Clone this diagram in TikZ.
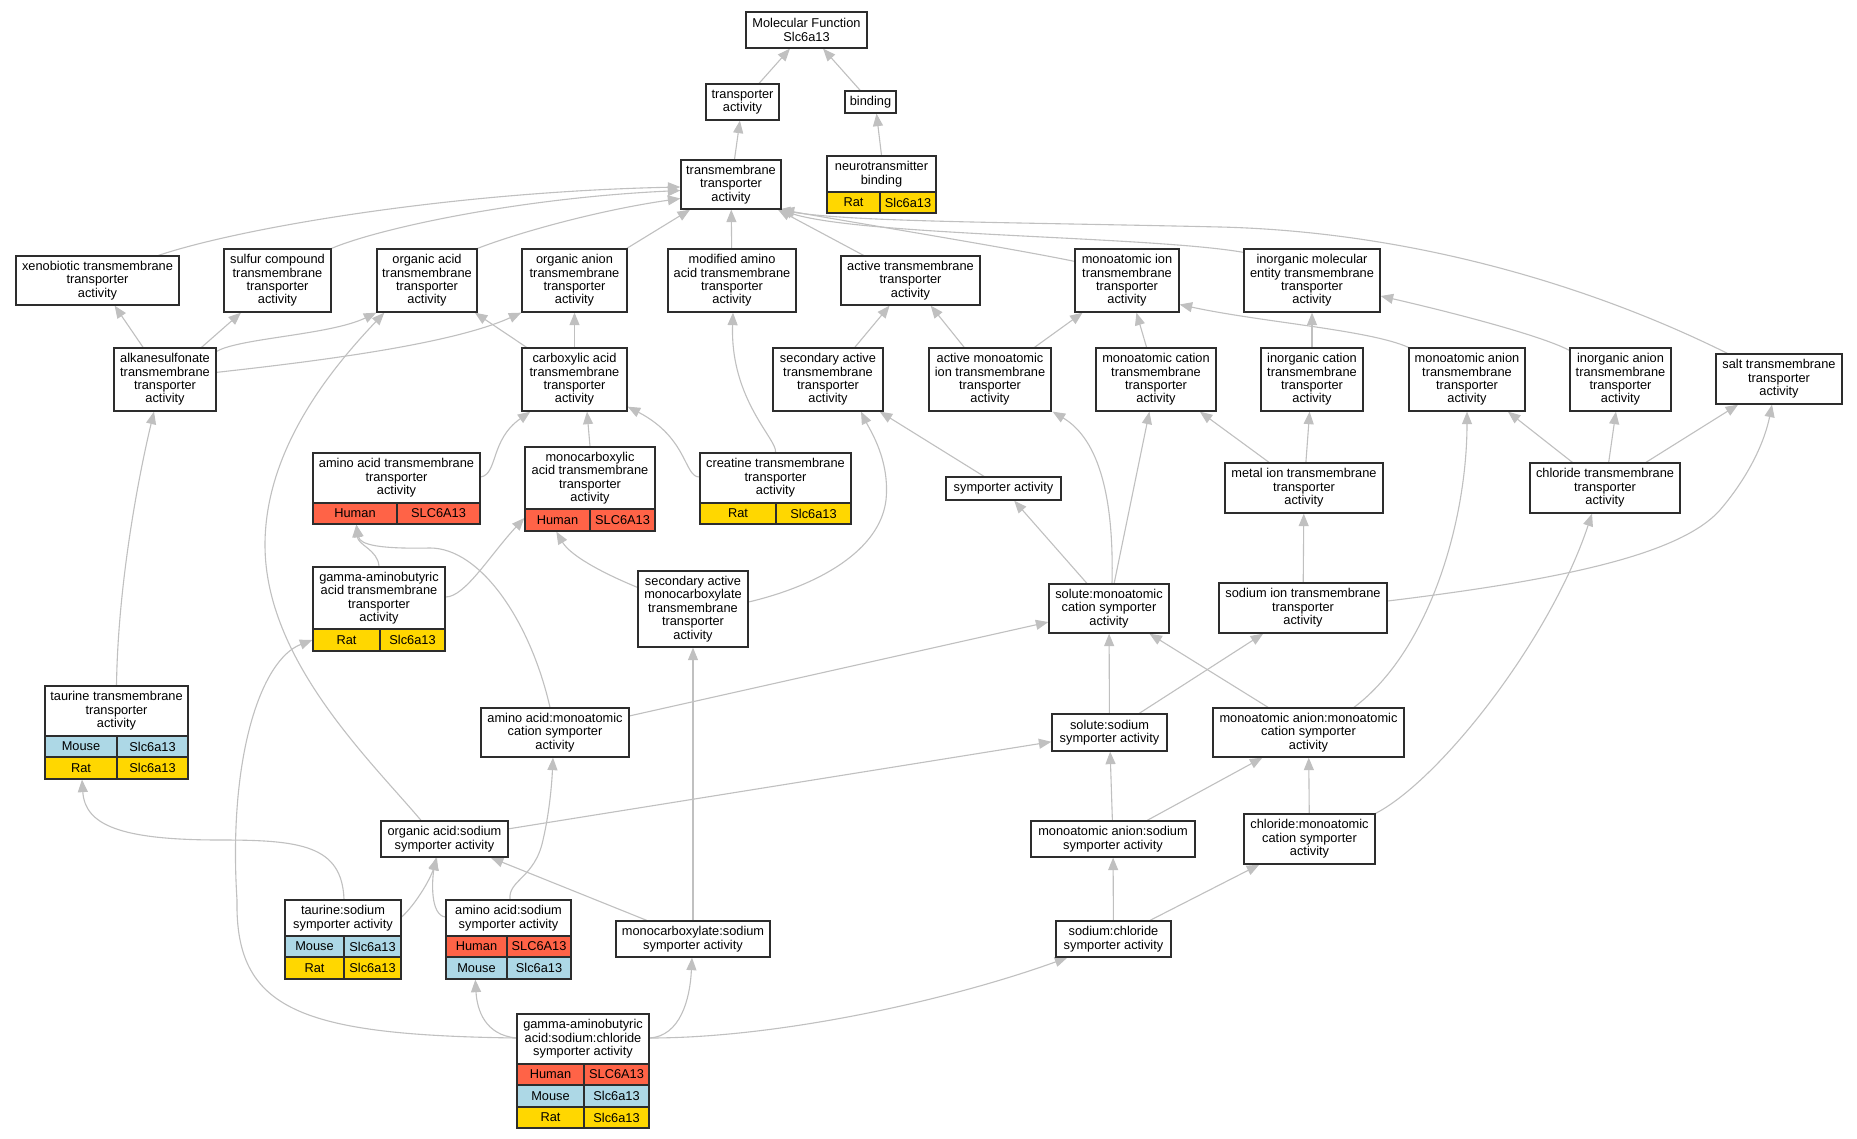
\documentclass[tikz,border=0pt]{standalone}
\usepackage{fontspec}
\setmainfont{Liberation Sans}
\usetikzlibrary{arrows.meta}
\definecolor{edgegray}{RGB}{192,192,192}
\definecolor{human}{RGB}{255,99,71}
\definecolor{mouse}{RGB}{173,216,230}
\definecolor{rat}{RGB}{255,215,0}
\definecolor{boxline}{RGB}{45,45,45}
\newcommand{\gofont}{\fontsize{12.8}{13.4}\selectfont}
\pgfdeclarelayer{bg}
\pgfsetlayers{bg,main}
\tikzset{
  gbx/.style={draw=boxline, line width=1.3pt, fill=white, rectangle, inner sep=0pt, align=center, font=\gofont},
  gtxt/.style={inner sep=0pt, align=center, font=\gofont},
  cellbox/.style={draw=boxline, line width=1.3pt},
  goedge/.style={draw=edgegray, line width=1.1pt, -{Triangle[length=12.5pt,width=10pt]}},
}
% name, left, top, right, bottom, text
\newcommand{\GOn}[6]{\node[gbx, minimum width={(#4-#2)*1pt}, minimum height={(#5-#3)*1pt}] (#1) at ({(#2+#4)/2},{(#3+#5)/2}) {#6};}
% name, left, top, right, header bottom, bottom, text
\newcommand{\GOtab}[7]{\node[gbx, minimum width={(#4-#2)*1pt}, minimum height={(#6-#3)*1pt}] (#1) at ({(#2+#4)/2},{(#3+#6)/2}) {};
  \node[gtxt] at ({(#2+#4)/2},{(#3+#5)/2}) {#7};}
% left, split, right, top, bottom, colour, species, gene
\newcommand{\GOrow}[8]{\draw[cellbox, fill=#6] (#1,#4) rectangle (#2,#5);
  \draw[cellbox, fill=#6] (#2,#4) rectangle (#3,#5);
  \node[gtxt] at ({(#1+#2)/2},{(#4+#5)/2}) {#7};
  \node[gtxt] at ({(#2+#3)/2},{(#4+#5)/2}) {#8};}
\begin{document}
\begin{tikzpicture}[x=1pt,y=-1pt]
\useasboundingbox (0,0) rectangle (1857,1139);
\begin{pgfonlayer}{bg}
\fill[white] (0,0) rectangle (1857,1139);
\end{pgfonlayer}

\GOn{MF}{746}{12}{867}{48}{Molecular Function\\Slc6a13}
\GOn{TA}{706}{84}{779}{120}{transporter\\activity}
\GOn{BIND}{845}{91}{896}{113}{binding}
\GOtab{NB}{827}{156}{936}{192}{213}{neurotransmitter\\binding}
\GOrow{827}{880}{936}{192}{213}{rat}{Rat}{Slc6a13}
\GOn{TTA}{681}{160}{781}{209}{transmembrane\\transporter\\activity}

\GOn{XEN}{16}{256}{179}{305}{xenobiotic transmembrane\\transporter\\activity}
\GOn{SULF}{224}{249}{331}{312}{sulfur compound\\transmembrane\\transporter\\activity}
\GOn{ORGA}{377}{249}{477}{312}{organic acid\\transmembrane\\transporter\\activity}
\GOn{ORGAN}{522}{249}{627}{312}{organic anion\\transmembrane\\transporter\\activity}
\GOn{MODAA}{668}{249}{796}{312}{modified amino\\acid transmembrane\\transporter\\activity}
\GOn{ACT}{841}{256}{980}{305}{active transmembrane\\transporter\\activity}
\GOn{MION}{1075}{249}{1179}{312}{monoatomic ion\\transmembrane\\transporter\\activity}
\GOn{INORG}{1244}{249}{1380}{312}{inorganic molecular\\entity transmembrane\\transporter\\activity}

\GOn{ALK}{114}{348}{216}{411}{alkanesulfonate\\transmembrane\\transporter\\activity}
\GOn{CARB}{522}{348}{627}{411}{carboxylic acid\\transmembrane\\transporter\\activity}
\GOn{SECACT}{773}{348}{883}{411}{secondary active\\transmembrane\\transporter\\activity}
\GOn{AMION}{929}{348}{1051}{411}{active monoatomic\\ion transmembrane\\transporter\\activity}
\GOn{MCAT}{1096}{348}{1216}{411}{monoatomic cation\\transmembrane\\transporter\\activity}
\GOn{INCAT}{1261}{348}{1363}{411}{inorganic cation\\transmembrane\\transporter\\activity}
\GOn{MAN}{1409}{348}{1525}{411}{monoatomic anion\\transmembrane\\transporter\\activity}
\GOn{INAN}{1570}{348}{1671}{411}{inorganic anion\\transmembrane\\transporter\\activity}
\GOn{SALT}{1716}{354}{1842}{404}{salt transmembrane\\transporter\\activity}

\GOtab{AATM}{313}{453}{480}{503}{524}{amino acid transmembrane\\transporter\\activity}
\GOrow{313}{397}{480}{503}{524}{human}{Human}{SLC6A13}
\GOtab{MONOC}{525}{447}{655}{509}{531}{monocarboxylic\\acid transmembrane\\transporter\\activity}
\GOrow{525}{590}{655}{509}{531}{human}{Human}{SLC6A13}
\GOtab{CREAT}{700}{453}{851}{503}{524}{creatine transmembrane\\transporter\\activity}
\GOrow{700}{776}{851}{503}{524}{rat}{Rat}{Slc6a13}
\GOn{SYMP}{946}{477}{1061}{500}{symporter activity}
\GOn{METAL}{1225}{463}{1383}{513}{metal ion transmembrane\\transporter\\activity}
\GOn{CHLTM}{1530}{463}{1680}{513}{chloride transmembrane\\transporter\\activity}

\GOtab{GABATM}{313}{567}{445}{629}{651}{gamma-aminobutyric\\acid transmembrane\\transporter\\activity}
\GOrow{313}{380}{445}{629}{651}{rat}{Rat}{Slc6a13}
\GOn{SECMC}{638}{571}{748}{647}{secondary active\\monocarboxylate\\transmembrane\\transporter\\activity}
\GOn{SOLMC}{1049}{584}{1169}{633}{solute:monoatomic\\cation symporter\\activity}
\GOn{SODTM}{1219}{583}{1387}{633}{sodium ion transmembrane\\transporter\\activity}

\GOtab{TAURTM}{45}{686}{188}{736}{779}{taurine transmembrane\\transporter\\activity}
\GOrow{45}{117}{188}{736}{757}{mouse}{Mouse}{Slc6a13}
\GOrow{45}{117}{188}{757}{779}{rat}{Rat}{Slc6a13}
\GOn{AAMC}{481}{708}{629}{757}{amino acid:monoatomic\\cation symporter\\activity}
\GOn{SOLNA}{1052}{714}{1167}{751}{solute:sodium\\symporter activity}
\GOn{MAMC}{1213}{708}{1404}{757}{monoatomic anion:monoatomic\\cation symporter\\activity}

\GOn{OANA}{381}{821}{508}{857}{organic acid:sodium\\symporter activity}
\GOn{MANNA}{1031}{821}{1195}{857}{monoatomic anion:sodium\\symporter activity}
\GOn{CLMC}{1244}{814}{1375}{864}{chloride:monoatomic\\cation symporter\\activity}

\GOtab{TAURNA}{285}{900}{401}{936}{979}{taurine:sodium\\symporter activity}
\GOrow{285}{344}{401}{936}{957}{mouse}{Mouse}{Slc6a13}
\GOrow{285}{344}{401}{957}{979}{rat}{Rat}{Slc6a13}
\GOtab{AANA}{446}{900}{571}{936}{979}{amino acid:sodium\\symporter activity}
\GOrow{446}{507}{571}{936}{957}{human}{Human}{SLC6A13}
\GOrow{446}{507}{571}{957}{979}{mouse}{Mouse}{Slc6a13}
\GOn{MCNA}{616}{921}{770}{957}{monocarboxylate:sodium\\symporter activity}
\GOn{NACL}{1056}{921}{1171}{957}{sodium:chloride\\symporter activity}

\GOtab{GABANA}{517}{1014}{649}{1064}{1128}{gamma-aminobutyric\\acid:sodium:chloride\\symporter activity}
\GOrow{517}{584}{649}{1064}{1085}{human}{Human}{SLC6A13}
\GOrow{517}{584}{649}{1085}{1107}{mouse}{Mouse}{Slc6a13}
\GOrow{517}{584}{649}{1107}{1128}{rat}{Rat}{Slc6a13}

\begin{pgfonlayer}{bg}
\draw[goedge] (TA) -- (MF);
\draw[goedge] (BIND) -- (MF);
\draw[goedge] (NB.north) -- ([xshift=6pt]BIND.south);
\draw[goedge] (TTA) -- (TA);
\draw[goedge] ([xshift=-21pt]XEN.north east) .. controls (240,228) and (450,192) .. ([yshift=-2.5pt]TTA.west);
\draw[goedge] (SULF.north east) .. controls (380,228) and (520,198) .. ([yshift=-6pt]TTA.west);
\draw[goedge] (ORGA.north east) .. controls (520,232) and (600,210) .. ([yshift=-14pt]TTA.west);
\draw[goedge] (ORGAN) -- (TTA);
\draw[goedge] (MODAA) -- (TTA);
\draw[goedge] (ACT) -- (TTA);
\draw[goedge] ([yshift=-13pt]MION.north west) .. controls (1010,248) and (850,222) .. (TTA.south east);
\draw[goedge] ([yshift=-4pt]INORG.north west) .. controls (1150,236) and (860,236) .. ([xshift=-2pt]TTA.south east);
\draw[goedge] ([xshift=12pt]SALT.north west) .. controls (1600,290) and (1420,232) .. (1220,227) .. controls (1000,222) and (850,222) .. ([xshift=-4pt]TTA.south east);

\draw[goedge] (ALK) -- (XEN);
\draw[goedge] (ALK) -- (SULF);
\draw[goedge] ([yshift=-4pt]ALK.north east) .. controls (240,338) and (330,335) .. (ORGA.south west);
\draw[goedge] ([yshift=-25pt]ALK.north east) .. controls (310,362) and (450,345) .. (ORGAN.south west);
\draw[goedge] (CARB) -- (ORGA);
\draw[goedge] (CARB) -- (ORGAN);
\draw[goedge] (SECACT) -- (ACT);
\draw[goedge] (AMION) -- (ACT);
\draw[goedge] (AMION) -- (MION);
\draw[goedge] (MCAT) -- (MION);
\draw[goedge] (MAN.north west) .. controls (1370,330) and (1260,322) .. ([yshift=-24pt]MION.east);
\draw[goedge] (INCAT) -- (INORG);
\draw[goedge] ([yshift=-3pt]INAN.north west) .. controls (1540,335) and (1450,312) .. ([yshift=-15.5pt]INORG.east);

\draw[goedge] ([yshift=11.5pt]AATM.east) .. controls (498,474) and (490,440) .. ([xshift=9pt]CARB.south west);
\draw[goedge] (MONOC.north) -- ([xshift=12.5pt]CARB.south);
\draw[goedge] ([yshift=11.5pt]CREAT.west) .. controls (684,477) and (688,438) .. ([yshift=5pt]CARB.south east);
\draw[goedge] (CREAT.north) .. controls (778,440) and (730,400) .. ([xshift=1pt]MODAA.south);
\draw[goedge] (GABATM.north) .. controls (378,550) and (358,545) .. ([xshift=44pt]AATM.south west);
\draw[goedge] ([yshift=12pt]GABATM.east) .. controls (465,597) and (490,555) .. ([yshift=-29pt]MONOC.west);
\draw[goedge] ([xshift=-5pt]AAMC.north) .. controls (530,620) and (480,548) .. (430,548) .. controls (380,549) and (360,545) .. ([xshift=44pt]AATM.south west);
\draw[goedge] ([yshift=-17pt]SECMC.north west) .. controls (600,572) and (570,555) .. ([xshift=32pt]MONOC.south west);
\draw[goedge] ([yshift=7pt]SECMC.east) .. controls (820,585) and (880,550) .. (886,500) .. controls (890,460) and (870,430) .. ([xshift=33pt]SECACT.south);
\draw[goedge] (SYMP) -- (SECACT);
\draw[goedge] (SOLMC) -- (SYMP);
\draw[goedge] ([xshift=3pt]SOLMC.north) .. controls (1114,500) and (1100,440) .. ([xshift=1pt]AMION.south east);
\draw[goedge] (SOLMC) -- (MCAT);
\draw[goedge] (METAL) -- (INCAT);
\draw[goedge] (METAL) -- (MCAT);
\draw[goedge] (SODTM) -- (METAL);
\draw[goedge] ([yshift=7pt]SODTM.east) .. controls (1560,580) and (1680,555) .. (1720,510) .. controls (1750,475) and (1765,440) .. ([xshift=-7pt]SALT.south);
\draw[goedge] (CHLTM) -- (MAN);
\draw[goedge] (CHLTM) -- (INAN);
\draw[goedge] (CHLTM) -- (SALT);
\draw[goedge] ([xshift=45.5pt]MAMC.north) .. controls (1430,650) and (1467,520) .. (MAN.south);
\draw[goedge] (MAMC) -- (SOLMC);
\draw[goedge] (AAMC) -- (SOLMC);
\draw[goedge] (SOLNA) -- (SOLMC);
\draw[goedge] (SOLNA) -- (SODTM);
\draw[goedge] (OANA) -- (SOLNA);
\draw[goedge] ([xshift=-23.5pt]OANA.north) .. controls (370,760) and (265,660) .. (265,545) .. controls (265,450) and (330,370) .. ([xshift=8pt]ORGA.south west);
\draw[goedge] ([xshift=1pt]TAURNA.north) .. controls (342,845) and (300,840) .. (220,840) .. controls (120,840) and (85,825) .. ([xshift=-34.5pt]TAURTM.south);
\draw[goedge] ([yshift=22.5pt]TAURNA.east) .. controls (415,905) and (430,880) .. ([xshift=-7.5pt]OANA.south);
\draw[goedge] ([yshift=22.5pt]AANA.west) .. controls (430,915) and (432,880) .. ([xshift=-8.5pt]OANA.south);
\draw[goedge] ([xshift=1.5pt]AANA.north) .. controls (508,880) and (535,878) .. (543,840) .. controls (550,810) and (552,780) .. ([xshift=-2pt]AAMC.south);
\draw[goedge] (MCNA) -- (OANA);
\draw[goedge] (MCNA) -- (SECMC);
\draw[goedge] (MANNA) -- (SOLNA);
\draw[goedge] (MANNA) -- (MAMC);
\draw[goedge] (NACL) -- (MANNA);
\draw[goedge] (NACL) -- (CLMC);
\draw[goedge] (CLMC) -- (MAMC);
\draw[goedge] (CLMC.north east) .. controls (1440,780) and (1550,640) .. ([xshift=-13pt]CHLTM.south);
\draw[goedge] ([yshift=33pt]GABANA.west) .. controls (485,1035) and (477,1010) .. ([xshift=30pt]AANA.south west);
\draw[goedge] ([yshift=33pt]GABANA.east) .. controls (680,1036) and (690,1000) .. ([xshift=-1pt]MCNA.south);
\draw[goedge] ([yshift=33pt]GABANA.east) .. controls (780,1038) and (950,1000) .. ([xshift=12pt]NACL.south west);
\draw[goedge] ([yshift=33pt]GABANA.west) .. controls (300,1035) and (235,1010) .. (237,900) .. controls (228,760) and (260,660) .. ([yshift=-31pt]GABATM.west);
\draw[goedge] (TAURTM.north) .. controls (118,580) and (140,470) .. ([xshift=-11pt]ALK.south);
\end{pgfonlayer}
\end{tikzpicture}
\end{document}
